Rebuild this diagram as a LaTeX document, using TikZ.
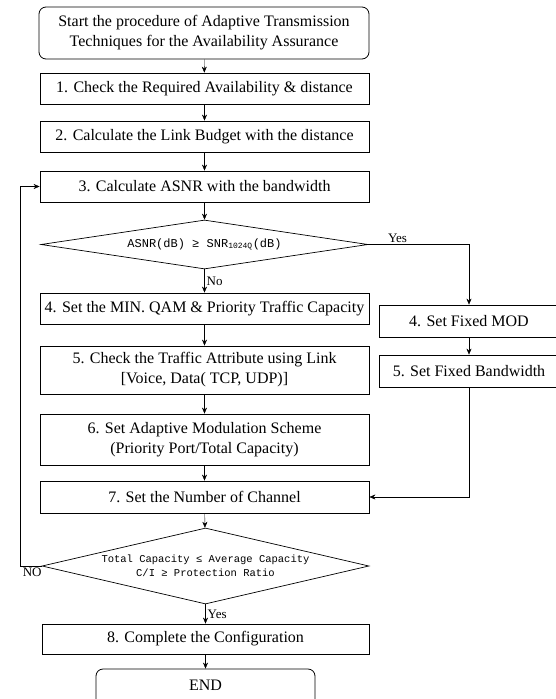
\documentclass[tikz,border=0pt]{standalone}
\usepackage{fontspec}
\setmainfont{Liberation Serif}
\setmonofont{Liberation Mono}
\usetikzlibrary{arrows.meta,positioning,shapes.geometric}

\begin{document}
\begin{tikzpicture}[x=1pt,y=-1pt,%
    >={Stealth[length=6pt,width=5pt]},align=center,every node/.style={font=\fontsize{16}{20}\selectfont}]
    \tikzstyle{state}=[text centered,rectangle,draw=black,line width=0.8pt,%
      fill=white,inner sep=0pt,minimum width=329pt,minimum height=31pt]
    % All state styles
    \tikzstyle{terminal}=[state,rounded corners=7pt]
    \tikzstyle{process}=[state]
    \tikzstyle{sidebox}=[state,minimum width=180pt,minimum height=32pt]
    \tikzstyle{decision}=[diamond,draw=black,line width=0.7pt,inner sep=0pt,%
      aspect=6.7,minimum width=327pt]
    \tikzstyle{answer}=[font=\fontsize{13}{15}\selectfont,inner sep=2pt]
    \useasboundingbox (0,0) rectangle (555,699);
    % All states
    \node (start) [terminal,minimum width=330pt,minimum height=52pt] at (204,33)
      {Start the procedure of Adaptive Transmission\\Techniques for the Availability Assurance};
    \node (check) [process] at (204.5,88.5) {1. Check the Required Availability \& distance};
    \node (budget) [process] at (204.5,136.5) {2. Calculate the Link Budget with the distance};
    \node (asnr) [process] at (204.5,186.5) {3. Calculate ASNR with the bandwidth};
    \node (snrTest) [decision,minimum height=49pt,font=\ttfamily\fontsize{12}{14}\selectfont]
      at (204.5,244.5) {ASNR(dB) ≥ SNR\textsubscript{1024Q}(dB)};
    \node (minQam) [process] at (204.5,308.5) {4. Set the MIN. QAM \& Priority Traffic Capacity};
    \node (fixedMod) [sidebox] at (469,321) {4. Set Fixed MOD};
    \node (fixedBw) [sidebox] at (469,371) {5. Set Fixed Bandwidth};
    \node (attribute) [process,minimum height=48pt] at (204.5,370)
      {5. Check the Traffic Attribute using Link\\{[Voice, Data( TCP, UDP)]}};
    \node (scheme) [process,minimum height=51pt] at (204.5,439.5)
      {6. Set Adaptive Modulation Scheme\\(Priority Port/Total Capacity)};
    \node (channel) [process,minimum height=32pt] at (204.5,497) {7. Set the Number of Channel};
    \node (capTest) [decision,aspect=4.3,inner xsep=-12pt,inner ysep=0pt,minimum height=76pt,%
      font=\ttfamily\fontsize{10.5}{14}\selectfont]
      at (205.5,566) {Total Capacity ≤ Average Capacity\\C/I ≥ Protection Ratio};
    \node (config) [process,minimum width=327pt,minimum height=30pt] at (205.5,639)
      {8. Complete the Configuration};
    \node (finish) [terminal,minimum width=219pt,minimum height=43pt] at (205.5,690.5) {};
    \node (endText) at (205.5,685) {END};
    % Edges
    \draw [->] (start) -- (check);
    \draw [->] (check) -- (budget);
    \draw [->] (budget) -- (asnr);
    \draw [->] (asnr) -- (snrTest);
    \draw [->] (snrTest) -- node[answer,right]{No} (minQam);
    \draw [->] (snrTest.east) -- node[answer,above,pos=0.29]{Yes} (snrTest.east -| fixedMod.north) -- (fixedMod.north);
    \draw [->] (fixedMod) -- (fixedBw);
    \draw [->] (fixedBw.south) |- (channel.east);
    \draw [->] (minQam) -- (attribute);
    \draw [->] (attribute) -- (scheme);
    \draw [->] (scheme) -- (channel);
    \draw [->] (channel) -- (capTest);
    \draw [->] (capTest.west) -- ++(-21,0) node[answer,anchor=north west]{NO} |- (asnr.west);
    \draw [->] (capTest) -- node[answer,right]{Yes} (config);
    \draw [->] (config) -- (finish);
  \end{tikzpicture}
\end{document}
